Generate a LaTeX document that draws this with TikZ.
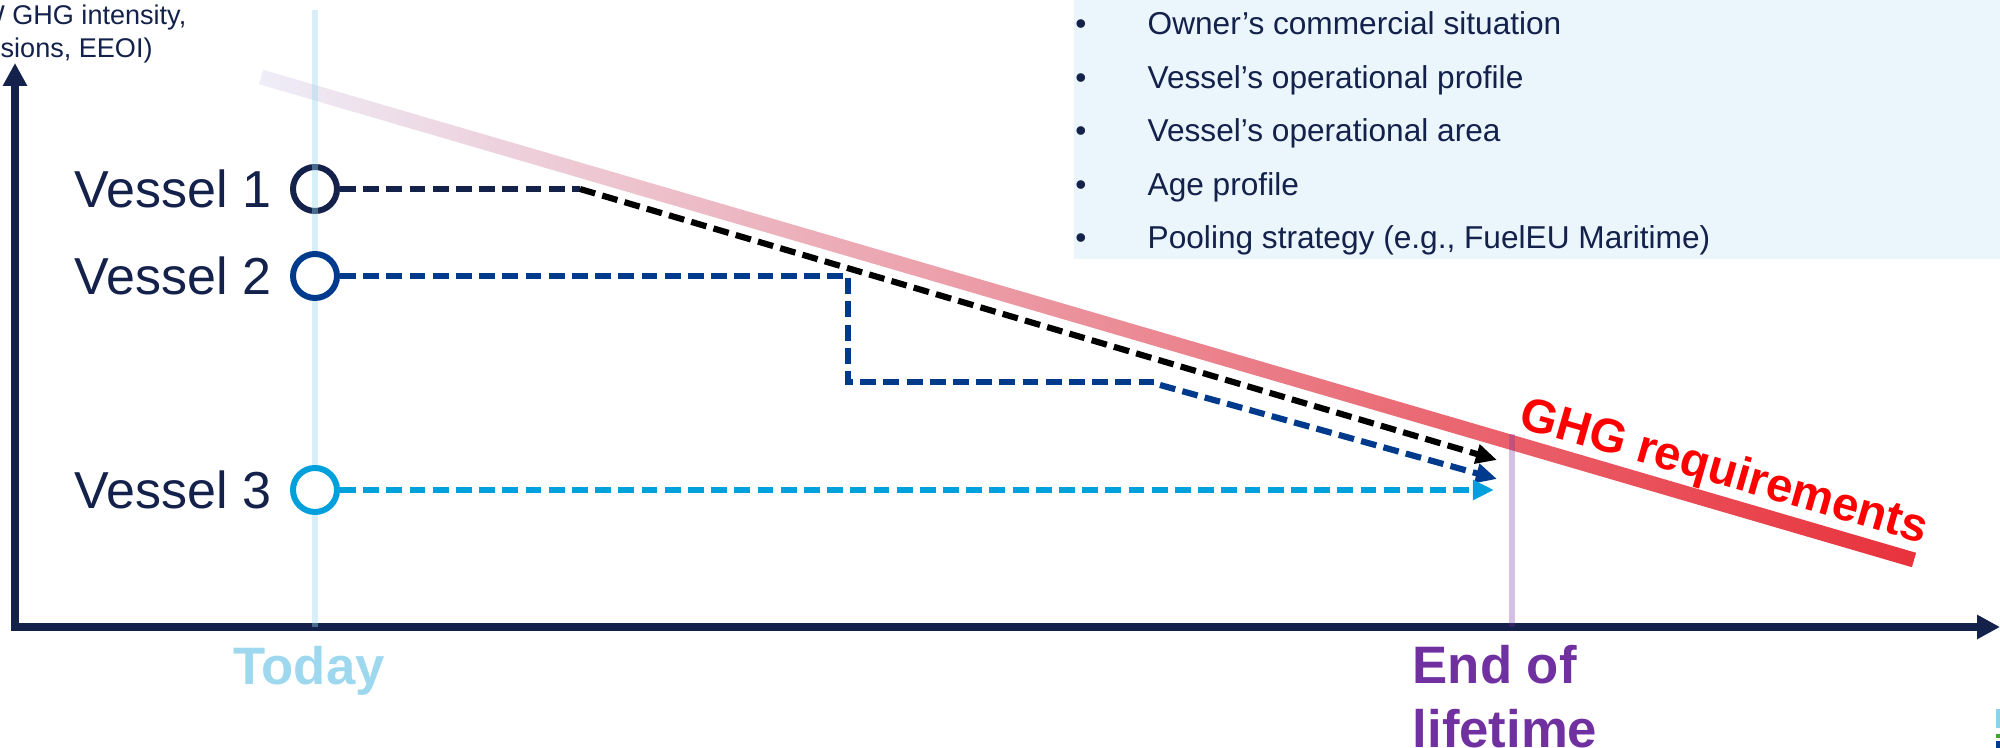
\documentclass[tikz,border=0pt]{standalone}
\usepackage{fontspec}
\setmainfont{Liberation Sans}
\usetikzlibrary{arrows.meta,positioning,calc}

\definecolor{navy}{RGB}{19,33,75}
\definecolor{vesselblue}{RGB}{0,58,140}
\definecolor{vesselcyan}{RGB}{0,160,220}
\definecolor{todayblue}{RGB}{157,216,239}
\definecolor{lifepurple}{RGB}{112,48,160}
\definecolor{boxblue}{RGB}{234,245,252}
\definecolor{bandstart}{RGB}{238,237,248}
\definecolor{bandmid}{RGB}{236,192,203}
\definecolor{bandend}{RGB}{232,50,60}
\definecolor{logogreen}{RGB}{63,165,53}

\begin{document}
\begin{tikzpicture}[>={Triangle[length=6pt,width=5.4pt]}]

% --- 全局样式 ---
\tikzset{
  vessel/.style={circle, draw, line width=1.7pt, fill=white, minimum size=0.44cm, inner sep=0pt},
  vlabel/.style={text=navy, font=\fontsize{14.8}{17}\selectfont, inner sep=0pt},
  path dash/.style={line width=1.75pt, dash pattern=on 4.5pt off 2.1pt},
  guide line/.style={line width=1.6pt},
  factor/.style={text=navy, font=\fontsize{9}{11}\selectfont, inner sep=0pt},
}

% --- 设置参数 ---
\def\xmax{19.85}   % 横轴终点
\def\ymax{5.64}    % 纵轴终点
\def\xToday{3.0}   % 今天
\def\xEnd{14.97}   % 寿命结束

% --- 画布范围 ---
\useasboundingbox (-0.15,-1.21) rectangle (19.85,6.27);

% --- 右上角的影响因素框 ---
\fill[boxblue] (10.59,3.68) rectangle (19.85,6.27);
\foreach \txt [count=\i] in {Owner’s commercial situation, Vessel’s operational profile,
    Vessel’s operational area, Age profile, {Pooling strategy (e.g., FuelEU Maritime)}}
{
  \node[factor, anchor=base] (b\i) at (10.66, {5.92-0.535*(\i-1)}) {•};
  \node[factor, anchor=base west] (f\i) at (11.32, {5.92-0.535*(\i-1)}) {\txt};
}

% --- 纵轴说明 ---
\node[text=navy, font=\fontsize{7.7}{9}\selectfont, anchor=base east, inner sep=0pt] (ylab1) at (1.72,6.02) {W GHG intensity,};
\node[text=navy, font=\fontsize{7.7}{9}\selectfont, anchor=base west, inner sep=0pt] (ylab2) at (-0.15,5.69) {sions, EEOI)};

% --- GHG 要求带 (渐变) ---
\coordinate (S) at (2.46,5.50);
\coordinate (E) at (18.99,0.67);
\shade[left color=bandstart, middle color=bandmid, right color=bandend]
  ($(S)!0.075cm!90:(E)$) -- ($(E)!0.075cm!-90:(S)$) -- ($(E)!0.075cm!90:(S)$) -- ($(S)!0.075cm!-90:(E)$) -- cycle;
\node[text=red, font=\bfseries\fontsize{13.5}{15}\selectfont, rotate=-16, anchor=base west, inner sep=0pt] (ghg) at (15.02,2.0) {GHG requirements};

% --- 坐标轴 ---
\coordinate (O) at (0,0);
\draw[navy, line width=2pt, {Triangle[length=6.5pt,width=6.5pt]}-{Triangle[length=6.5pt,width=6.5pt]}]
  (0,\ymax) -- (O) -- (\xmax,0);

% --- 船 1 在竖线下面 ---
\node[vessel, draw=navy] (v1) at (\xToday,4.38) {};

% --- 今天 / 寿命结束 竖线 ---
\draw[guide line, todayblue, opacity=0.4] (\xToday,6.17) -- (\xToday,0);
\draw[guide line, lifepurple, opacity=0.3] (\xEnd,1.93) -- (\xEnd,0);

\node[vessel, draw=vesselblue] (v2) at (\xToday,3.51) {};
\node[vessel, draw=vesselcyan] (v3) at (\xToday,1.37) {};

% --- 船名 ---
\node[vlabel, left=0.18cm of v1] (l1) {Vessel 1};
\node[vlabel, left=0.18cm of v2] (l2) {Vessel 2};
\node[vlabel, left=0.18cm of v3] (l3) {Vessel 3};

% --- 各船路径 ---
\coordinate (k1) at (5.65,4.38);
\coordinate (e1) at (14.82,1.67);
\draw[path dash, navy] (v1.east) -- (k1);
\draw[path dash, black, ->] (k1) -- (e1);

\coordinate (k2) at (8.33,3.51);
\coordinate (k3) at (8.33,2.45);
\coordinate (k4) at (11.39,2.45);
\coordinate (k5) at (11.45,2.42);
\coordinate (e2) at (14.82,1.48);
\draw[path dash, vesselblue] (v2.east) -- (k2) -- (k3) -- (k4);
\draw[path dash, vesselblue, ->] (k5) -- (e2);

\coordinate (e3) at (14.79,1.37);
\draw[path dash, vesselcyan, ->] (v3.east) -- (e3);

% --- 横轴标签 ---
\node[text=todayblue, font=\bfseries\fontsize{15}{18}\selectfont, anchor=base] (today) at (2.94,-0.58) {Today};
\node[text=lifepurple, font=\bfseries\fontsize{15}{18}\selectfont, align=left, anchor=north west, inner sep=0pt] (eol) at (13.97,-0.18) {End of\\lifetime};

% --- 右下角小标志 ---
\fill[todayblue!90!vesselcyan] (19.81,-0.82) rectangle (19.85,-1.01);
\fill[logogreen] (19.81,-1.07) rectangle (19.85,-1.11);
\fill[vesselblue] (19.81,-1.14) rectangle (19.85,-1.21);
\end{tikzpicture}
\end{document}
